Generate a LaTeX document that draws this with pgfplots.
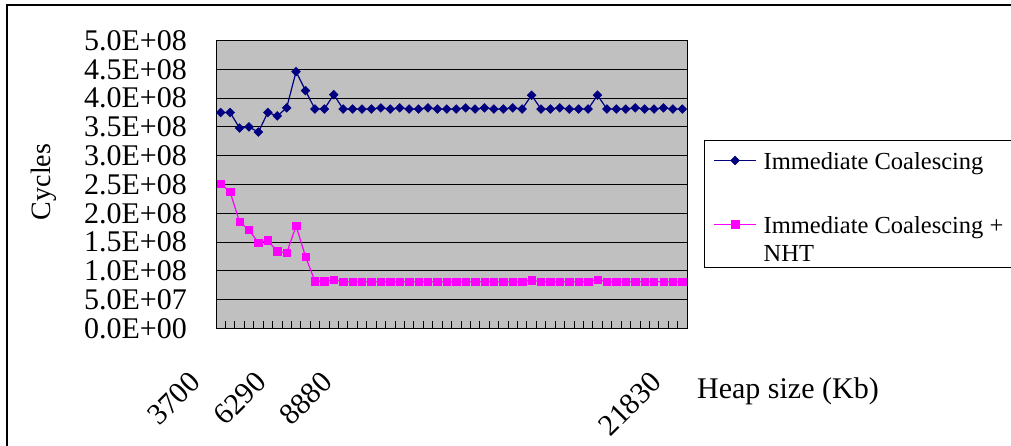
\documentclass[border=0pt]{standalone}
\usepackage{fontspec}
\setmainfont{Liberation Serif}
\usepackage{pgfplots}
\usepackage{pgfplotstable}
\pgfplotsset{compat=1.18}
\definecolor{navyc}{HTML}{000080}
\definecolor{magc}{HTML}{FF00FF}
\definecolor{plotgray}{HTML}{C0C0C0}

\pgfplotstableread{
i v
0 3.75e8
1 3.75e8
2 3.48e8
3 3.50e8
4 3.41e8
5 3.75e8
6 3.69e8
7 3.83e8
8 4.46e8
9 4.13e8
10 3.81e8
11 3.81e8
12 4.06e8
13 3.81e8
14 3.81e8
15 3.81e8
16 3.81e8
17 3.83e8
18 3.81e8
19 3.83e8
20 3.81e8
21 3.81e8
22 3.83e8
23 3.81e8
24 3.81e8
25 3.81e8
26 3.83e8
27 3.81e8
28 3.83e8
29 3.81e8
30 3.81e8
31 3.83e8
32 3.81e8
33 4.05e8
34 3.81e8
35 3.81e8
36 3.83e8
37 3.81e8
38 3.81e8
39 3.81e8
40 4.05e8
41 3.81e8
42 3.81e8
43 3.81e8
44 3.83e8
45 3.81e8
46 3.81e8
47 3.83e8
48 3.81e8
49 3.81e8
}\immtab

\pgfplotstableread{
i v
0 2.51e8
1 2.37e8
2 1.85e8
3 1.71e8
4 1.49e8
5 1.53e8
6 1.34e8
7 1.31e8
8 1.78e8
9 1.25e8
10 0.82e8
11 0.82e8
12 0.85e8
13 0.81e8
14 0.81e8
15 0.81e8
16 0.81e8
17 0.81e8
18 0.81e8
19 0.81e8
20 0.81e8
21 0.81e8
22 0.81e8
23 0.81e8
24 0.81e8
25 0.81e8
26 0.81e8
27 0.81e8
28 0.81e8
29 0.81e8
30 0.81e8
31 0.81e8
32 0.81e8
33 0.84e8
34 0.81e8
35 0.81e8
36 0.81e8
37 0.81e8
38 0.81e8
39 0.81e8
40 0.85e8
41 0.81e8
42 0.81e8
43 0.81e8
44 0.81e8
45 0.81e8
46 0.81e8
47 0.81e8
48 0.81e8
49 0.81e8
}\nhttab

\begin{document}
\begin{tikzpicture}
\useasboundingbox (0,0) rectangle (1011pt,446pt);
\fill[white] (0,0) rectangle (1011pt,446pt);
\draw[line width=2pt] (7pt,0pt) -- (7pt,441pt) -- (1011pt,441pt);
\begin{axis}[
  at={(216pt,117.5pt)}, anchor=south west,
  width=471pt, height=288pt, scale only axis,
  xmin=-0.5, xmax=49.5, ymin=0, ymax=500000000,
  axis background/.style={fill=plotgray},
  axis line style={black, line width=1pt},
  scaled y ticks=false,
  ytick={0,50000000,100000000,150000000,200000000,250000000,300000000,350000000,400000000,450000000,500000000},
  yticklabels={0.0E+00,5.0E+07,1.0E+08,1.5E+08,2.0E+08,2.5E+08,3.0E+08,3.5E+08,4.0E+08,4.5E+08,5.0E+08},
  yticklabel style={font=\fontsize{30}{30}\selectfont, anchor=east, inner sep=0pt, xshift=-29pt},
  ytick style={draw=none},
  ymajorgrids, major grid style={black, line width=1pt},
  xtick={-0.5,0.5,...,49.5},
  xticklabels={},
  tick pos=left, tick align=inside,
  major tick length=7pt,
  xtick style={black, line width=0.8pt},
  extra x ticks={0,7,14,49},
  extra x tick labels={3700,6290,8880,21830},
  extra x tick style={major tick length=0pt, xmajorgrids=false,
    tick label style={font=\fontsize{30}{30}\selectfont, inner sep=0pt, anchor=east, xshift=-25.5pt, yshift=-48.7pt, rotate=45}},
  xlabel={Heap size (Kb)},
  xlabel style={font=\fontsize{30}{36}\selectfont, at={(axis description cs:1.0212,-0.218)}, anchor=west, inner sep=0pt},
  ylabel={Cycles},
  ylabel style={font=\fontsize{28}{34}\selectfont, at={(axis description cs:-0.365,0.509)}, anchor=center, inner sep=0pt},
  legend style={at={(axis description cs:1.0361,0.6545)}, anchor=north west, draw=black, line width=1pt, fill=white,
    font=\fontsize{24.5}{28}\selectfont, inner xsep=9pt, inner ysep=6.3pt, row sep=41.4pt, column sep=7pt,
    cells={anchor=base west}, nodes={inner sep=0pt, text depth=}},
  legend image code/.code={\draw[mark repeat=2,mark phase=2,#1] plot coordinates {(0pt,9.3pt) (21pt,9.3pt) (42pt,9.3pt)};},
]
\addplot[navyc, line width=1.2pt, mark=square*, mark size=3.1pt, mark options={rotate=45, solid, fill=navyc, line width=0.5pt}] table[x=i, y=v] {\immtab};
\addlegendentry{\rule{0pt}{23pt}Immediate Coalescing}
\addplot[magc, line width=1.2pt, mark=square*, mark size=3.7pt, mark options={solid, fill=magc, line width=0.5pt}] table[x=i, y=v] {\nhttab};
\addlegendentry{\vtop{\hbox{Immediate Coalescing +}\hbox{NHT}}}
\end{axis}
\end{tikzpicture}
\end{document}
